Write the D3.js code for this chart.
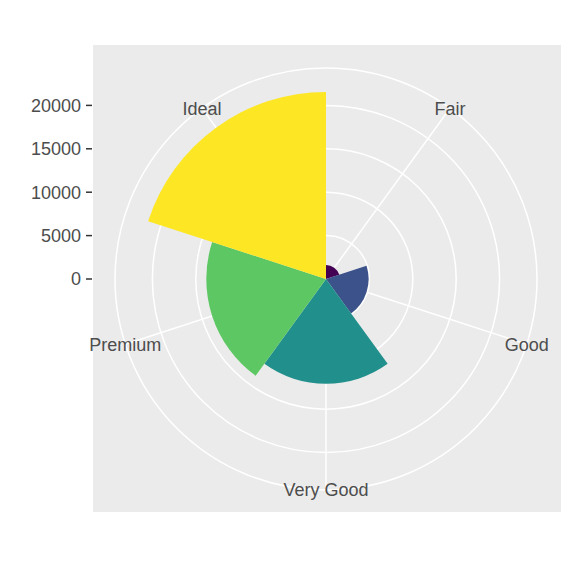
<!DOCTYPE html><html><head><script src="https://cdn.jsdelivr.net/npm/d3@7"></script>
<style>body{margin:0}</style></head><body><script>
const cuts=["Fair","Good","Very Good","Premium","Ideal"];
const counts=[1610,4906,12082,13791,21551];
const colors=["#440154","#3B528B","#21908C","#5DC863","#FDE725"];
const ticks=[0,5000,10000,15000,20000];
const W=576,cx=326,cy=279;
const svg=d3.select("body").append("svg").attr("width",W).attr("height",W).style("font-family","Liberation Sans, Arial, sans-serif");
svg.append("rect").attr("width",W).attr("height",W).attr("fill","#fff");
svg.append("rect").attr("x",93).attr("y",45).attr("width",468).attr("height",467).attr("fill","#EBEBEB");
const r=d3.scaleLinear().domain([0,5000]).range([0,43.4]);
const outer=211;
const ang=d3.scaleBand().domain(cuts).range([0,2*Math.PI]);
const g=svg.append("g").attr("transform",`translate(${cx},${cy})`);
ticks.slice(1).concat([]).forEach(t=>g.append("circle").attr("r",r(t)).attr("fill","none").attr("stroke","#fff").attr("stroke-width",1.5));
g.append("circle").attr("r",outer).attr("fill","none").attr("stroke","#fff").attr("stroke-width",1.5);
cuts.forEach(c=>{const a=ang(c)+ang.bandwidth()/2;
 g.append("line").attr("x1",0).attr("y1",0).attr("x2",outer*Math.sin(a)).attr("y2",-outer*Math.cos(a)).attr("stroke","#fff").attr("stroke-width",1.5);
 g.append("text").attr("x",outer*Math.sin(a)).attr("y",-outer*Math.cos(a)).attr("dy","0.35em").attr("text-anchor","middle").attr("font-size",18).attr("fill","#4D4D4D").text(c);});
const arc=d3.arc().innerRadius(0);
cuts.forEach((c,i)=>g.append("path").attr("d",arc({startAngle:ang(c),endAngle:ang(c)+ang.bandwidth(),outerRadius:r(counts[i])})).attr("fill",colors[i]));
ticks.forEach(t=>{const y=cy-r(t);
 svg.append("line").attr("x1",86).attr("x2",92).attr("y1",y).attr("y2",y).attr("stroke","#333").attr("stroke-width",1.5);
 svg.append("text").attr("x",81).attr("y",y).attr("dy","0.35em").attr("text-anchor","end").attr("font-size",18).attr("fill","#4D4D4D").text(t);});
</script></body></html>
